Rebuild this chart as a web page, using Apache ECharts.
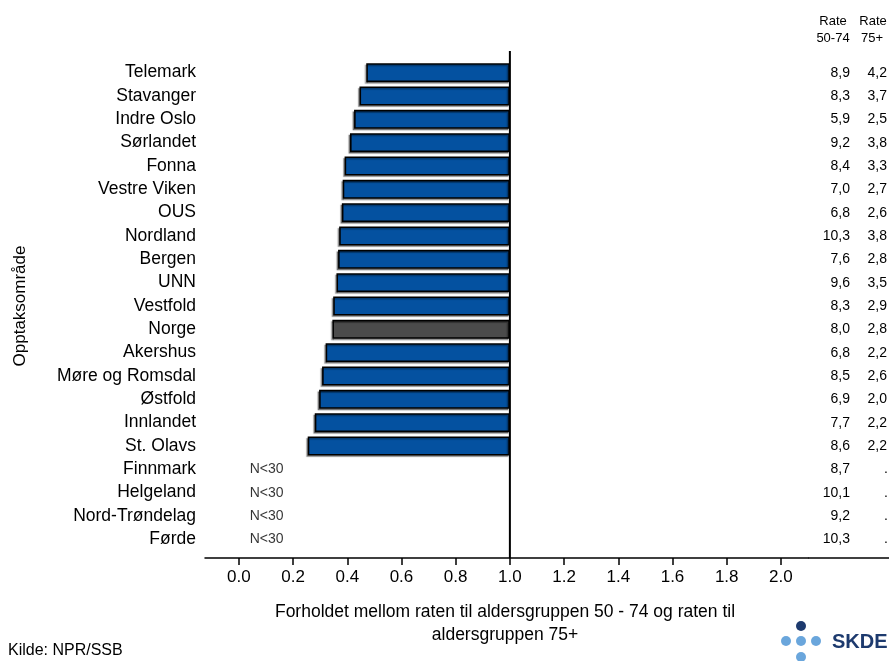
<!DOCTYPE html>
<html>
<head>
<meta charset="utf-8">
<script src="https://cdn.jsdelivr.net/npm/echarts@6/dist/echarts.min.js"></script>
<style>
html,body{margin:0;padding:0;background:#fff;}
#chart{width:891px;height:661px;}
</style>
</head>
<body>
<div id="chart"></div>
<script>
const categories = ['Telemark','Stavanger','Indre Oslo','Sørlandet','Fonna','Vestre Viken','OUS','Nordland','Bergen','UNN','Vestfold','Norge','Akershus','Møre og Romsdal','Østfold','Innlandet','St. Olavs','Finnmark','Helgeland','Nord-Trøndelag','Førde'];
const ratio = [0.47,0.445,0.425,0.41,0.39,0.383,0.38,0.37,0.366,0.36,0.348,0.345,0.32,0.307,0.296,0.28,0.254,null,null,null,null];
const rate5074 = ['8,9','8,3','5,9','9,2','8,4','7,0','6,8','10,3','7,6','9,6','8,3','8,0','6,8','8,5','6,9','7,7','8,6','8,7','10,1','9,2','10,3'];
const rate75 = ['4,2','3,7','2,5','3,8','3,3','2,7','2,6','3,8','2,8','3,5','2,9','2,8','2,2','2,6','2,0','2,2','2,2','.','.','.','.'];
const xTicks = [0,0.2,0.4,0.6,0.8,1.0,1.2,1.4,1.6,1.8,2.0];
const baseline = 1.0;
const smallNLabel = 'N<30';
const smallNPos = 0.04;

const FONT = 'Liberation Sans, Arial, sans-serif';
const chart = echarts.init(document.getElementById('chart'), null, {renderer:'canvas'});

const GRID = {left:205, top:61, width:603, height:490};

const option = {
  animation:false,
  backgroundColor:'#fff',
  textStyle:{fontFamily:FONT},
  grid:{left:GRID.left, top:GRID.top, width:GRID.width, height:GRID.height, containLabel:false},
  xAxis:{
    type:'value', min:-0.125, max:2.1, offset:7,
    axisLine:{show:true, lineStyle:{color:'#000', width:1.5}},
    axisTick:{show:true, customValues:xTicks, length:7, lineStyle:{color:'#000', width:1.5}},
    axisLabel:{customValues:xTicks, formatter:v=>v.toFixed(1), fontSize:17, color:'#000', margin:11, fontFamily:FONT},
    splitLine:{show:false}
  },
  yAxis:{
    type:'category', inverse:true, data:categories,
    axisLine:{show:false}, axisTick:{show:false},
    axisLabel:{interval:0, hideOverlap:false, fontSize:17.5, color:'#000', margin:9, fontFamily:FONT}
  },
  series:[
    {
      type:'bar', stack:'r', silent:true, barWidth:19,
      itemStyle:{color:'rgba(0,0,0,0)'},
      data: ratio.map(v => v==null ? '-' : v)
    },
    {
      type:'bar', stack:'r', barWidth:19,
      itemStyle:{color:'#0451a0', borderColor:'#000', borderWidth:1.6,
        shadowColor:'rgba(0,0,0,0.35)', shadowOffsetX:-1.5, shadowOffsetY:1.5, shadowBlur:1},
      data: ratio.map((v,i) => v==null ? '-' : {
        value: +(baseline - v).toFixed(4),
        itemStyle: categories[i]==='Norge' ? {color:'#4b4b4b'} : undefined
      })
    },
    {
      type:'scatter', symbolSize:0, silent:true,
      label:{show:true, position:'inside', align:'left', formatter:smallNLabel, fontSize:14, color:'#000', fontFamily:FONT},
      data: categories.map((c,i)=> ratio[i]==null ? [smallNPos, c] : null).filter(d=>d)
    }
  ]
};
chart.setOption(option);

function addGraphics(){
  const x1 = chart.convertToPixel({xAxisIndex:0}, baseline);
  const axisY = GRID.top + GRID.height + 7;
  const right = GRID.left + GRID.width;
  const els = [];
  els.push({type:'line', shape:{x1:x1, y1:51, x2:x1, y2:axisY}, style:{stroke:'#000', lineWidth:2}, z:10});
  els.push({type:'line', shape:{x1:right, y1:axisY, x2:889, y2:axisY}, style:{stroke:'#000', lineWidth:1.5}, z:10});
  const hdr = {fontSize:13, fill:'#000', fontFamily:FONT, align:'center', verticalAlign:'middle'};
  els.push({type:'text', x:833, y:21, style:Object.assign({text:'Rate'}, hdr)});
  els.push({type:'text', x:833, y:38, style:Object.assign({text:'50-74'}, hdr)});
  els.push({type:'text', x:873, y:21, style:Object.assign({text:'Rate'}, hdr)});
  els.push({type:'text', x:872, y:38, style:Object.assign({text:'75+'}, hdr)});
  categories.forEach((c,i)=>{
    const y = chart.convertToPixel({yAxisIndex:0}, c);
    els.push({type:'text', x:850, y:y, style:{text:rate5074[i], fontSize:14, fill:'#000', fontFamily:FONT, align:'right', verticalAlign:'middle'}});
    els.push({type:'text', x:rate75[i]==='.'?888:887, y:y, style:{text:rate75[i], fontSize:14, fill:'#000', fontFamily:FONT, align:'right', verticalAlign:'middle'}});
  });
  els.push({type:'text', x:20, y:GRID.top + GRID.height/2, rotation:Math.PI/2,
    style:{text:'Opptaksområde', fontSize:17, fill:'#000', fontFamily:FONT, align:'center', verticalAlign:'middle'}});
  els.push({type:'text', x:505, y:624, style:{text:'Forholdet mellom raten til aldersgruppen 50 - 74 og raten til\naldersgruppen 75+', fontSize:17.5, lineHeight:23, fill:'#000', fontFamily:FONT, align:'center', verticalAlign:'middle'}});
  els.push({type:'text', x:8, y:651, style:{text:'Kilde: NPR/SSB', fontSize:16, fill:'#000', fontFamily:FONT, align:'left', verticalAlign:'middle'}});
  els.push({type:'circle', shape:{cx:801, cy:626, r:5}, style:{fill:'#1d3a6e'}});
  [786,801,816].forEach(cx=>els.push({type:'circle', shape:{cx:cx, cy:641, r:5}, style:{fill:'#6aa6dc'}}));
  els.push({type:'circle', shape:{cx:801, cy:657, r:5}, style:{fill:'#6aa6dc'}});
  els.push({type:'text', x:832, y:642, style:{text:'SKDE', fontSize:20, fontWeight:'bold', fill:'#1d3a6e', fontFamily:FONT, align:'left', verticalAlign:'middle'}});
  chart.setOption({graphic:{elements:els}});
}
addGraphics();
</script>
</body>
</html>
